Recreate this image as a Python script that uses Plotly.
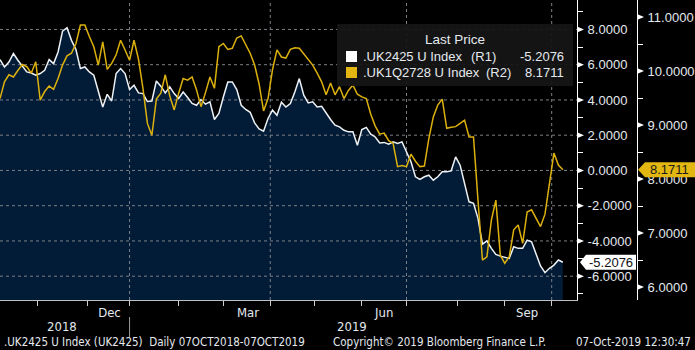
import pandas as pd
import plotly.graph_objects as go

# ---------------- data (every 2nd UK trading day) ----------------
uk2425 = [6.29, 5.87, 6.15, 6.63, 6.25, 5.91, 5.59, 5.53, 5.40, 5.50,
          5.68, 6.29, 6.06, 6.72, 7.90, 8.10, 7.38, 6.86, 5.78, 5.87,
          5.59, 5.40, 4.55, 3.60, 4.32, 3.94, 5.50, 5.78, 5.50, 4.59,
          4.83, 4.40, 4.36, 3.91, 3.94, 5.08, 4.78, 4.40, 4.74, 4.36,
          4.08, 4.45, 4.14, 3.80, 3.70, 4.02, 3.76, 3.89, 2.89, 3.23,
          4.17, 5.02, 5.02, 4.59, 3.70, 3.46, 3.30, 2.70, 2.36, 2.23,
          2.95, 3.42, 3.13, 3.87, 3.60, 3.80, 4.45, 5.21, 4.27, 3.83,
          3.89, 3.60, 3.64, 3.23, 2.89, 2.57, 2.47, 2.28, 2.19, 2.19,
          1.43, 2.32, 2.44, 2.06, 1.90, 1.56, 1.59, 1.49, 1.62, 1.53,
          1.62, 1.05, 0.49, -0.36, -0.51, -0.36, -0.27, -0.55, -0.36, -0.08,
          -0.08, -0.02, 0.77, 0.30, -0.83, -1.78, -1.87, -2.72, -4.18, -3.99,
          -4.42, -4.76, -4.86, -4.93, -4.99, -4.33, -4.42, -4.42, -3.95, -4.05,
          -4.80, -5.42, -5.80, -5.55, -5.37, -5.08, -5.2076]

uk1q2728 = [9.49, 9.80, 9.93, 9.89, 10.01, 10.12, 10.08, 9.96, 10.17, 9.46,
            9.62, 9.72, 9.66, 9.86, 10.11, 10.28, 10.33, 10.51, 10.85, 10.85,
            10.64, 10.45, 10.11, 10.54, 10.03, 10.14, 10.30, 10.57, 10.39, 10.20,
            10.57, 10.22, 9.68, 9.03, 8.81, 9.48, 9.59, 9.93, 9.54, 9.28,
            9.59, 9.86, 9.83, 9.89, 9.65, 9.34, 9.60, 9.89, 9.68, 10.45,
            10.51, 10.40, 10.42, 10.61, 10.65, 10.48, 10.33, 10.11, 9.76, 9.26,
            9.49, 10.02, 10.39, 10.26, 10.24, 10.40, 10.43, 10.42, 10.31, 10.22,
            10.11, 9.96, 9.80, 9.56, 9.78, 9.56, 9.71, 9.49, 9.64, 9.74,
            9.57, 9.52, 9.49, 9.20, 8.98, 8.83, 8.85, 8.71, 8.66, 8.23,
            8.25, 8.23, 8.46, 8.33, 8.23, 8.24, 8.75, 9.15, 9.37, 9.48,
            8.94, 8.96, 8.97, 9.03, 9.09, 8.78, 8.78, 7.61, 6.50, 6.56,
            7.24, 7.61, 6.59, 6.44, 6.56, 7.06, 7.15, 6.81, 7.39, 7.43,
            7.27, 7.12, 7.35, 7.92, 8.48, 8.26, 8.1711]

uk_holidays = ["2018-12-25", "2018-12-26", "2019-01-01", "2019-04-19",
               "2019-04-22", "2019-05-06", "2019-05-27", "2019-08-26"]
month_ends = ["2018-10-31", "2018-11-30", "2018-12-31", "2019-01-31", "2019-02-28",
              "2019-03-29", "2019-04-30", "2019-05-31", "2019-06-28", "2019-07-31",
              "2019-08-30", "2019-09-30"]
quarter_ends = ["2018-12-31", "2019-03-29", "2019-06-28", "2019-09-30"]
month_label_dates = ["2018-12-14", "2019-03-15", "2019-06-14", "2019-09-13"]
month_labels = ["Dec", "Mar", "Jun", "Sep"]
year_labels = ["2018", "2019"]
r1_ticks = [-6, -4, -2, 0, 2, 4, 6, 8]
r2_ticks = [6, 7, 8, 9, 10, 11]
name1 = ".UK2425 U Index"
name2 = ".UK1Q2728 U Index"

trading = [d for d in pd.bdate_range("2018-10-08", "2019-10-07")
           if d.strftime("%Y-%m-%d") not in uk_holidays]
dates = trading[::2]
n = min(len(dates), len(uk2425), len(uk1q2728))
dates = dates[:n]

# ---------------- geometry ----------------
W, H = 695, 350
PH = 300                      # plot height in px
XR = 577                      # right edge of plot area (R1 axis)
XR2 = 637                     # R2 axis
r1_range = [-7.35, 9.67]
r2_range = [5.76, 11.315]
x_range = ["2018-10-08", "2019-10-15 08:00"]

WHITE = "#eef2f6"
GOLD = "#dcb10d"
NAVY = "#021c38"
GRID = "#7b7f86"
TXT = "#e4e9ef"
FONT = "Liberation Sans, Arial, sans-serif"
NARROW = "Liberation Sans Narrow, DejaVu Sans Condensed, Arial Narrow, Liberation Sans, sans-serif"


def px(x):
    return x / W


def py(y):
    return 1 - y / PH


r1_pp = PH / (r1_range[1] - r1_range[0])
r2_pp = PH / (r2_range[1] - r2_range[0])

fig = go.Figure()

# area fill below the R1 series
fig.add_trace(go.Scatter(x=[dates[0], dates[-1]], y=[r1_range[0]] * 2, mode="lines",
                         line=dict(width=0), hoverinfo="skip", showlegend=False))
fig.add_trace(go.Scatter(x=dates, y=uk2425[:n], mode="lines", line=dict(width=0),
                         fill="tonexty", fillcolor=NAVY, hoverinfo="skip", showlegend=False))

# grid lines (drawn above the fill, below the lines)
for v in r1_ticks:
    fig.add_trace(go.Scatter(x=x_range, y=[v, v], mode="lines",
                             line=dict(color=GRID, width=1, dash="3px,3px"),
                             hoverinfo="skip", showlegend=False))
for d in quarter_ends:
    fig.add_trace(go.Scatter(x=[d, d], y=r1_range, mode="lines",
                             line=dict(color=GRID, width=1, dash="3px,3px"),
                             hoverinfo="skip", showlegend=False))

fig.add_trace(go.Scatter(x=dates, y=uk2425[:n], mode="lines", name=name1,
                         line=dict(color=WHITE, width=1.5), showlegend=False))
fig.add_trace(go.Scatter(x=dates, y=uk1q2728[:n], mode="lines", name=name2, yaxis="y2",
                         line=dict(color=GOLD, width=1.5), showlegend=False))

shapes = []
annotations = []


def note(x, y, text, size=13, color=TXT, family=FONT, xanchor="center", xref="paper",
         yref="paper"):
    annotations.append(dict(xref=xref, yref=yref, x=x, y=y, text=text, showarrow=False,
                            xanchor=xanchor, yanchor="middle",
                            font=dict(family=family, size=size, color=color)))


# triangles on the major ticks
for v in r1_ticks:
    h = 3 / r1_pp
    shapes.append(dict(type="path", xref="paper", yref="y",
                       path=f"M {px(XR)},{v-h} L {px(XR)},{v+h} L {px(XR+7)},{v} Z",
                       fillcolor="white", line=dict(width=0)))
for v in r2_ticks:
    h = 3 / r2_pp
    shapes.append(dict(type="path", xref="paper", yref="y2",
                       path=f"M {px(XR2)},{v-h} L {px(XR2)},{v+h} L {px(XR2+7)},{v} Z",
                       fillcolor="white", line=dict(width=0)))

# last value tags on the axes
v1 = uk2425[n - 1]
h1 = 7.5 / r1_pp
shapes.append(dict(type="path", xref="paper", yref="y",
                   path=(f"M {px(580)},{v1} L {px(586)},{v1+h1} L {px(636)},{v1+h1} "
                         f"L {px(636)},{v1-h1} L {px(586)},{v1-h1} Z"),
                   fillcolor="white", line=dict(width=0)))
note(px(611), v1, f"{v1:.4f}", color="#111111", yref="y")
v2 = uk1q2728[n - 1]
h2 = 7.5 / r2_pp
shapes.append(dict(type="path", xref="paper", yref="y2",
                   path=(f"M {px(638)},{v2} L {px(645)},{v2+h2} L {px(695)},{v2+h2} "
                         f"L {px(695)},{v2-h2} L {px(645)},{v2-h2} Z"),
                   fillcolor="#e2b712", line=dict(width=0)))
note(px(669), v2, f"{v2:.4f}", color="#1a1a1a", yref="y2")

# legend panel
shapes.append(dict(type="rect", xref="paper", yref="paper", x0=px(337), x1=px(573),
                   y0=py(86), y1=py(24), fillcolor="#161616", opacity=0.93,
                   line=dict(width=0), layer="above"))
shapes.append(dict(type="rect", xref="paper", yref="paper", x0=px(346), x1=px(357),
                   y0=py(62), y1=py(51), fillcolor="white", line=dict(width=0)))
shapes.append(dict(type="rect", xref="paper", yref="paper", x0=px(346), x1=px(357),
                   y0=py(78), y1=py(67), fillcolor="#e2b712", line=dict(width=0)))
note(px(455), py(40), "Last Price", size=13.5)
for row_y, nm, tag, tag_x, val in [(56.5, name1, "(R1)", 469, v1),
                                   (72.5, name2, "(R2)", 484, v2)]:
    note(px(361), py(row_y), nm, xanchor="left")
    note(px(tag_x), py(row_y), tag, xanchor="left")
    note(px(566), py(row_y), f"{val:.4f}", xanchor="right")

# year row and separator
shapes.append(dict(type="line", xref="x", yref="paper", x0=quarter_ends[0], x1=quarter_ends[0],
                   y0=py(317), y1=py(337), line=dict(color="#9a9a9a", width=1)))
note(px(62), py(326), year_labels[0], family=NARROW)
note(px(352), py(326), year_labels[1], family=NARROW)

# footer
note(px(2), py(342), ".UK2425 U Index (UK2425)  Daily 07OCT2018-07OCT2019",
     size=11.5, family=NARROW, xanchor="left")
note(px(331), py(342), "Copyright© 2019 Bloomberg Finance L.P.",
     size=11.5, family=NARROW, xanchor="left")
note(px(693), py(342), "07-Oct-2019 12:30:47", size=11.5, family=NARROW, xanchor="right")

fig.update_layout(
    width=W, height=H,
    margin=dict(l=0, r=0, t=0, b=H - PH, pad=0),
    paper_bgcolor="black", plot_bgcolor="black",
    showlegend=False,
    xaxis=dict(
        type="date", domain=[0, px(XR)], range=x_range,
        rangebreaks=[dict(bounds=["sat", "mon"]), dict(values=uk_holidays)],
        tickmode="array", tickvals=month_label_dates, ticktext=month_labels,
        ticks="", showgrid=False, zeroline=False,
        tickfont=dict(family=NARROW, size=13, color=TXT),
        showline=True, linecolor="#bfbfbf", linewidth=1,
        minor=dict(tickmode="array", tickvals=month_ends, ticks="outside", ticklen=5,
                   tickcolor="#cfcfcf", tickwidth=1, showgrid=False),
    ),
    yaxis=dict(
        side="right", anchor="x", range=r1_range,
        tickmode="array", tickvals=r1_ticks, ticktext=[f"{v:.4f}" for v in r1_ticks],
        ticks="outside", ticklen=7, tickcolor="rgba(0,0,0,0)",
        tickfont=dict(family=FONT, size=13, color=TXT),
        showgrid=False, zeroline=False,
        showline=True, linecolor="white", linewidth=1,
        minor=dict(tickmode="linear", tick0=1, dtick=2, ticks="outside", ticklen=5,
                   tickcolor="white", showgrid=False),
    ),
    yaxis2=dict(
        overlaying="y", side="right", anchor="free", position=px(XR2), range=r2_range,
        tickmode="array", tickvals=r2_ticks, ticktext=[f"{v:.4f}" for v in r2_ticks],
        ticks="outside", ticklen=7, tickcolor="rgba(0,0,0,0)",
        tickfont=dict(family=FONT, size=13, color=TXT),
        showgrid=False, zeroline=False,
        showline=True, linecolor="white", linewidth=1,
        minor=dict(tickmode="linear", tick0=6.5, dtick=1, ticks="outside", ticklen=5,
                   tickcolor="white", showgrid=False),
    ),
    shapes=shapes,
    annotations=annotations,
)

fig.write_html("out.html")
